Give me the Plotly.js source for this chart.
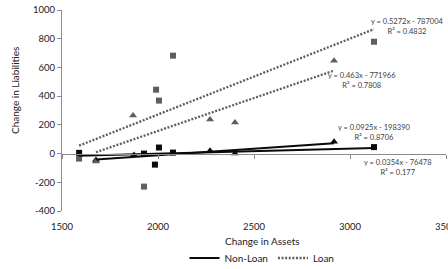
<!DOCTYPE html>
<html>
<head>
<meta charset="utf-8">
<script src="https://cdn.plot.ly/plotly-3.0.1.min.js"></script>
<style>html,body{margin:0;padding:0;background:#fff;}#chart{width:448px;height:269px;}</style>
</head>
<body>
<div id="chart"></div>
<script>
// Loan series (gray)
const loanSqX = [1589, 1927, 1990, 2005, 2078, 3125];
const loanSqY = [-35, -230, 445, 369, 682, 779];
const loanTriX = [1677, 1870, 2271, 2401, 2917];
const loanTriY = [-56, 265, 237, 216, 647];
// Non-Loan series (black)
const nonSqX = [1589, 1927, 1984, 2005, 2078, 3125];
const nonSqY = [5, 0, -77, 42, 7, 45];
const nonTriX = [1677, 1875, 2271, 2401, 2917];
const nonTriY = [-45, -10, 20, 0, 82];
// Trendline labels (as printed on the chart)
const eqLoanSq = ["y = 0.5272x - 787004", "R² = 0.4832"];
const eqLoanTri = ["y = 0.463x - 771966", "R² = 0.7808"];
const eqNonTri = ["y = 0.0925x - 198390", "R² = 0.8706"];
const eqNonSq = ["y = 0.0354x - 76478", "R² = 0.177"];
const xTicks = [1500, 2000, 2500, 3000, 3500];
const yTicks = [-400, -200, 0, 200, 400, 600, 800, 1000];
const legendNames = ["Non-Loan", "Loan"];

function fit(xs, ys) {
  const n = xs.length;
  const mx = xs.reduce((a, b) => a + b, 0) / n;
  const my = ys.reduce((a, b) => a + b, 0) / n;
  let sxy = 0, sxx = 0;
  for (let i = 0; i < n; i++) { sxy += (xs[i] - mx) * (ys[i] - my); sxx += (xs[i] - mx) ** 2; }
  const m = sxy / sxx, b = my - m * mx;
  const x0 = Math.min(...xs), x1 = Math.max(...xs);
  return { x: [x0, x1], y: [m * x0 + b, m * x1 + b] };
}

const GRAY = '#5e5e5e', BLACK = '#0a0a0a';
const traces = [];
function markers(xs, ys, sym, col) {
  traces.push({ x: xs, y: ys, mode: 'markers', type: 'scatter', showlegend: false, hoverinfo: 'skip',
    marker: { symbol: sym, size: sym === 'square' ? 6 : 7, color: col } });
}
markers(nonTriX, nonTriY, 'triangle-up', BLACK);
markers(loanSqX, loanSqY, 'square', GRAY);
markers(loanTriX, loanTriY, 'triangle-up', GRAY);
markers(nonSqX, nonSqY, 'square', BLACK);

function trend(xs, ys, name, dash, col, w, show) {
  const f = fit(xs, ys);
  traces.push({ x: f.x, y: f.y, mode: 'lines', type: 'scatter', name: name, legendgroup: name,
    showlegend: show, hoverinfo: 'skip', line: { color: col, width: w, dash: dash } });
}
trend(nonSqX, nonSqY, legendNames[0], 'solid', BLACK, 2, true);
trend(nonTriX, nonTriY, legendNames[0], 'solid', BLACK, 2, false);
trend(loanSqX, loanSqY, legendNames[1], '2px,1.6px', GRAY, 2.3, true);
trend(loanTriX, loanTriY, legendNames[1], '2px,1.6px', GRAY, 2.3, false);

// helper trace for the axis drawn through y = 0
traces.push({ x: [2500], y: [0], xaxis: 'x2', mode: 'markers', marker: { opacity: 0 }, showlegend: false, hoverinfo: 'skip' });

const FONT = 'Lato, "Open Sans", sans-serif';
const eqFont = { family: FONT, size: 7.5, color: '#404040' };
function eqAnn(lines, x, y) {
  return { x: x, y: y, xref: 'x', yref: 'y', text: lines.join('<br>'), showarrow: false, font: eqFont, align: 'center', xanchor: 'center', yanchor: 'middle' };
}

const layout = {
  width: 448, height: 269,
  margin: { l: 62, r: 2, t: 10, b: 58, autoexpand: false },
  paper_bgcolor: '#fff', plot_bgcolor: '#fff',
  showlegend: true,
  legend: { orientation: 'h', xref: 'container', yref: 'container', x: 262 / 448, y: 1 - 258 / 269,
    xanchor: 'center', yanchor: 'middle',
    font: { family: FONT, size: 10, color: '#222' }, itemwidth: 30, tracegroupgap: 0 },
  xaxis: { range: [1500, 3500], tickvals: xTicks, ticktext: xTicks.map(String), showgrid: false, zeroline: false,
    showline: false, ticks: 'outside', ticklen: 7, tickcolor: 'rgba(0,0,0,0)', ticklabeloverflow: 'allow',
    tickfont: { family: FONT, size: 9.5, color: '#222' } },
  xaxis2: { overlaying: 'x', anchor: 'free', position: 400 / 1400, range: [1500, 3500], tickvals: xTicks,
    showticklabels: false, showgrid: false, zeroline: false, showline: true, linecolor: '#8c8c8c', linewidth: 1,
    ticks: 'outside', ticklen: 4, tickcolor: '#8c8c8c' },
  yaxis: { range: [-400, 1000], tickvals: yTicks, ticktext: yTicks.map(String), showgrid: false, zeroline: false,
    showline: true, linecolor: '#8c8c8c', linewidth: 1, ticks: 'outside', ticklen: 4, tickcolor: '#8c8c8c',
    tickfont: { family: FONT, size: 9.5, color: '#222' } },
  annotations: [
    eqAnn(eqLoanSq, 3297, 887),
    eqAnn(eqLoanTri, 3062, 511),
    eqAnn(eqNonTri, 3125, 146),
    eqAnn(eqNonSq, 3250, -97),
    { xref: 'paper', yref: 'paper', x: (262 - 62) / 384, y: (211 - 241) / 201, text: 'Change in Assets', showarrow: false,
      font: { family: FONT, size: 10, color: '#222' }, xanchor: 'center', yanchor: 'middle' },
    { xref: 'paper', yref: 'paper', x: (15 - 62) / 384, y: (211 - 91) / 201, text: 'Change in Liabilities', showarrow: false,
      textangle: -90, font: { family: FONT, size: 10, color: '#222' }, xanchor: 'center', yanchor: 'middle' }
  ]
};

Plotly.newPlot('chart', traces, layout, { displayModeBar: false, staticPlot: true });
</script>
</body>
</html>
